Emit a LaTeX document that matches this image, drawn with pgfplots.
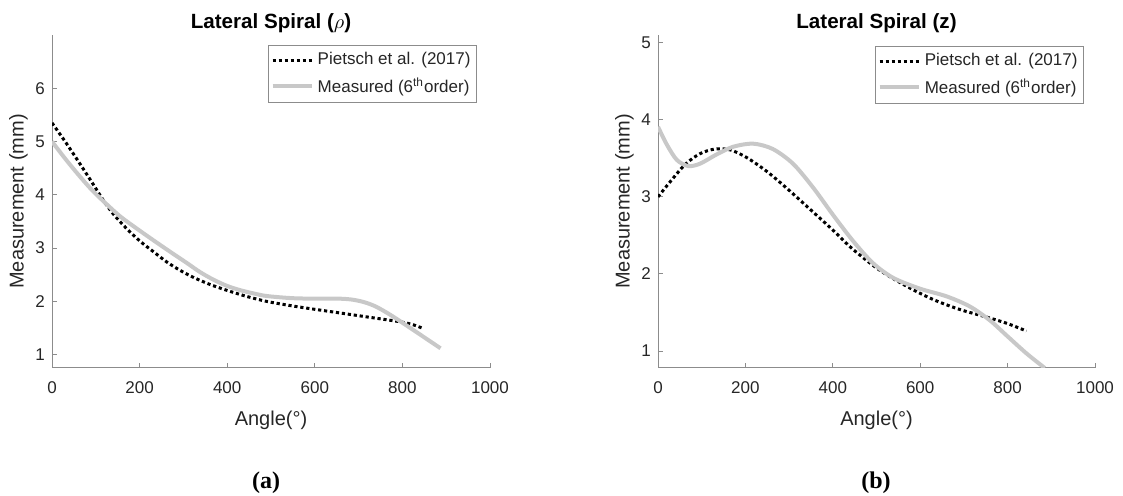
\documentclass[border=0pt]{standalone}
\usepackage{fontspec}
\setmainfont{Liberation Sans}
\newfontfamily\serifb{Liberation Serif}
\usepackage{pgfplots}
\pgfplotsset{compat=1.18}
\definecolor{axisgray}{HTML}{8C8C8C}
\definecolor{txt}{HTML}{262626}
\definecolor{measgray}{HTML}{C8C8C8}

\pgfplotsset{
 myaxis/.style={
  scale only axis, height=166.5pt,
  anchor=south west,
  axis x line*=bottom, axis y line*=left,
  axis line style={-, axisgray, line width=0.5pt},
  tick style={axisgray, line width=0.5pt},
  major tick length=2.5pt,
  tick align=inside,
  xmin=0, xmax=1000, xtick={0,200,...,1000},
  /pgf/number format/1000 sep={},
  /pgf/number format/assume math mode=true,
  ticklabel style={font=\fontsize{8.5}{10}\selectfont, text=txt},
  xticklabel shift=3.5pt,
  xlabel={Angle(°)}, ylabel={Measurement (mm)},
  ylabel shift=-3pt,
  xlabel shift=1.5pt,
  label style={font=\fontsize{10}{12}\selectfont, text=txt},
  title style={font=\fontsize{10.3}{12}\selectfont\bfseries, text=black, yshift=-8.5pt},
  legend style={draw=axisgray, fill=white, font=\fontsize{8.5}{10}\selectfont, text=txt,
    at={(1,1)}, anchor=north east, inner xsep=1pt, inner ysep=1.5pt, row sep=1pt, line width=0.5pt},
  legend cell align=left,
  legend image code/.code={\draw[#1] (0pt,0pt) -- (19.5pt,0pt);},
 },
 pdots/.style={black, line width=1.5pt, dash pattern=on 1.6pt off 1.4pt, smooth},
 measline/.style={measgray, line width=2pt, smooth},
}

\begin{document}
\begin{tikzpicture}
\useasboundingbox (0,0) rectangle (561.5pt,248pt);

\begin{axis}[myaxis, at={(26pt,64pt)}, width=219pt,
  ymin=0.75, ymax=7, ytick={1,2,3,4,5,6},
  title={Lateral Spiral ($\rho$)},
  legend style={xshift=-6.5pt, yshift=-5pt}]
\addplot[pdots] coordinates {
(0,5.35) (30,5.0) (60,4.63) (90,4.25) (117,3.9) (140,3.64) (170,3.37) (201,3.13)
(232,2.93) (262,2.74) (293,2.58) (323,2.45) (360,2.32) (402,2.2) (446,2.09)
(490,2.0) (545,1.92) (601,1.85) (660,1.78) (718,1.71) (760,1.66) (800,1.61)
(825,1.56) (845,1.5)};
\addlegendentry{Pietsch et al. (2017)}
\addplot[measline] coordinates {
(0,5.0) (30,4.68) (60,4.38) (90,4.1) (120,3.86) (155,3.6) (193,3.37) (231,3.15)
(270,2.93) (308,2.72) (338,2.55) (368,2.41) (400,2.29) (430,2.21) (460,2.15)
(491,2.1) (550,2.06) (613,2.05) (660,2.05) (688,2.03) (715,1.98) (740,1.9)
(770,1.76) (800,1.6) (840,1.38) (887,1.12)};
\addlegendentry{Measured (6\textsuperscript{th}order)}
\end{axis}

\begin{axis}[myaxis, at={(329pt,64pt)}, width=218.5pt,
  ymin=0.78, ymax=5.1, ytick={1,2,3,4,5},
  title={Lateral Spiral (z)},
  legend style={xshift=-5.5pt, yshift=-5.5pt}]
\addplot[pdots] coordinates {
(0,3.0) (27,3.19) (62,3.42) (96,3.56) (130,3.62) (165,3.61) (203,3.51) (249,3.33)
(295,3.11) (340,2.88) (400,2.57) (446,2.32) (507,2.05) (569,1.84) (629,1.67)
(690,1.54) (752,1.44) (798,1.36) (843,1.26)};
\addlegendentry{Pietsch et al. (2017)}
\addplot[measline] coordinates {
(0,3.91) (20,3.68) (43,3.48) (69,3.4) (96,3.43) (134,3.55) (172,3.65) (218,3.69)
(263,3.62) (309,3.43) (355,3.12) (400,2.77) (446,2.43) (492,2.14) (538,1.95)
(599,1.81) (660,1.71) (713,1.58) (759,1.40) (798,1.2) (843,0.97) (885,0.78)};
\addlegendentry{Measured (6\textsuperscript{th}order)}
\end{axis}

\node[font=\serifb\fontsize{12}{14}\selectfont\bfseries] at (133pt,6.5pt) {(a)};
\node[font=\serifb\fontsize{12}{14}\selectfont\bfseries] at (438pt,6.5pt) {(b)};
\end{tikzpicture}
\end{document}
